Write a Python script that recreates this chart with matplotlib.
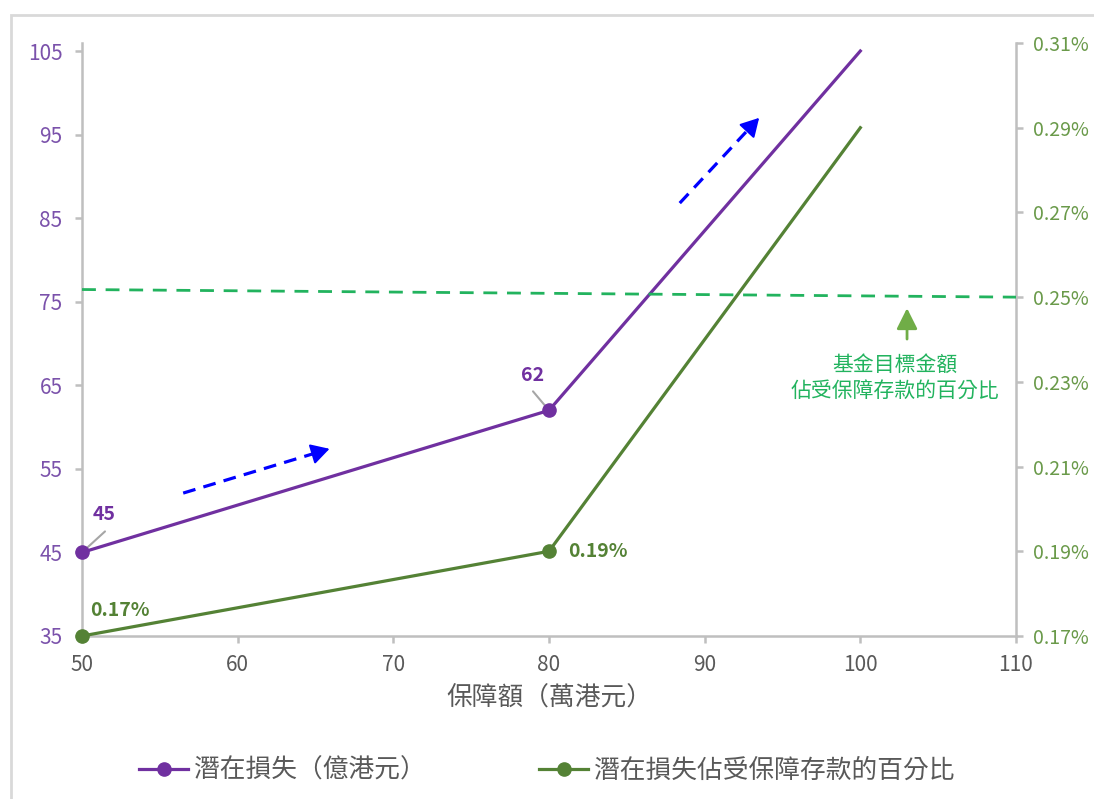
import matplotlib
matplotlib.use('Agg')
import matplotlib.pyplot as plt
from matplotlib.patches import Rectangle
from matplotlib.ticker import FuncFormatter

plt.rcParams['font.family'] = ['Noto Sans CJK TC', 'DejaVu Sans']

# 保障額（萬港元）
coverage = [50, 80, 100]
loss = [45, 62, 105]                 # 潛在損失（億港元）
loss_pct = [0.17, 0.19, 0.29]        # 潛在損失佔受保障存款的百分比 (%)
target_pct = [0.2518, 0.25]          # 基金目標金額 line, drawn from x=50 to x=110

loss_labels = ['45', '62']
pct_labels = ['0.17%', '0.19%']

purple = '#7030a0'
green = '#548235'
target_green = '#22b35e'
grey = '#bfbfbf'

fig = plt.figure(figsize=(10.94, 7.99), dpi=100)
ax = fig.add_axes([82 / 1094, 1 - 636 / 799, (1016 - 82) / 1094, (636 - 43) / 799])
ax2 = ax.twinx()

# outer frame
fig.add_artist(Rectangle((11 / 1094, -0.1), 2, 1 - 15 / 799 + 0.1, transform=fig.transFigure,
                         fill=False, ec='#d9d9d9', lw=2))

l1, = ax.plot(coverage, loss, color=purple, lw=2.3, marker='o', ms=9.5, markevery=[0, 1],
              label='潛在損失（億港元）', zorder=4, clip_on=False)
l2, = ax2.plot(coverage, loss_pct, color=green, lw=2.3, marker='o', ms=9.5, markevery=[0, 1],
               label='潛在損失佔受保障存款的百分比', zorder=4, clip_on=False)

ax.set_xlim(50, 110)
ax.set_ylim(35, 35 + 70 * 593 / 585)
ax.set_xticks(range(50, 111, 10))
ax.set_yticks(range(35, 106, 10))
ax2.set_ylim(0.17, 0.31)
ax2.set_yticks([0.17, 0.19, 0.21, 0.23, 0.25, 0.27, 0.29, 0.31])
ax2.yaxis.set_major_formatter(FuncFormatter(lambda v, p: f'{v:.2f}%'))

for a in (ax, ax2):
    for s in a.spines.values():
        s.set_color(grey)
        s.set_linewidth(1.8)
    a.spines['top'].set_visible(False)
ax.spines['right'].set_visible(False)
ax2.spines['left'].set_visible(False)
ax2.spines['bottom'].set_visible(False)

ax.tick_params(axis='y', colors=grey, labelcolor='#7b52ab', labelsize=15, length=5, width=1.8, pad=9)
ax.tick_params(axis='x', colors=grey, labelcolor='#595959', labelsize=15, length=5, width=1.8, pad=8)
ax2.tick_params(axis='y', colors=grey, labelcolor='#6a9a4a', labelsize=14, length=5, width=1.8, pad=7)

ax.set_xlabel('保障額（萬港元）', fontsize=18.5, color='#595959', labelpad=7)

# data labels
ax.annotate(loss_labels[0], xy=(coverage[0], loss[0]), xytext=(22, 38), textcoords='offset pixels',
            ha='center', va='center', fontsize=14, fontweight='bold', color=purple)
ax.annotate(loss_labels[1], xy=(coverage[1], loss[1]), xytext=(-16, 35), textcoords='offset pixels',
            ha='center', va='center', fontsize=14, fontweight='bold', color=purple)
ax.annotate('', xy=(coverage[0], loss[0]), xytext=(23, 21), textcoords='offset pixels',
            arrowprops=dict(arrowstyle='-', color='#a6a6a6', lw=1.5, shrinkA=0, shrinkB=2))
ax.annotate('', xy=(coverage[1], loss[1]), xytext=(-16, 19), textcoords='offset pixels',
            arrowprops=dict(arrowstyle='-', color='#a6a6a6', lw=1.5, shrinkA=0, shrinkB=2))
ax2.annotate(pct_labels[0], xy=(coverage[0], loss_pct[0]), xytext=(38, 26), textcoords='offset pixels',
             ha='center', va='center', fontsize=14, fontweight='bold', color=green)
ax2.annotate(pct_labels[1], xy=(coverage[1], loss_pct[1]), xytext=(49, 0), textcoords='offset pixels',
             ha='center', va='center', fontsize=14, fontweight='bold', color=green)

# blue trend arrows
for (x0, y0), (x1, y1) in [((56.5, 52.1), (65.9, 57.4)), ((88.4, 86.8), (93.5, 97.0))]:
    fx = x0 + (x1 - x0) * 0.9
    fy = y0 + (y1 - y0) * 0.9
    ax.plot([x0, fx], [y0, fy], color='#0000ff', lw=2.3, dashes=(4, 2.6), zorder=5)
    ax.annotate('', xy=(x1, y1), xytext=(fx, fy),
                arrowprops=dict(arrowstyle='-|>,head_length=0.8,head_width=0.45', color='#0000ff',
                                lw=1.5, shrinkA=0, shrinkB=0, mutation_scale=14), zorder=5)

# fund target line and note
ax2.plot([50, 110], target_pct, color=target_green, lw=2, dashes=(5, 3.5), clip_on=False, zorder=3)
ax2.annotate('', xy=(103.0, 0.2474), xytext=(103.0, 0.2401),
             arrowprops=dict(arrowstyle='-|>,head_length=0.7,head_width=0.35', color='#70ad47',
                             lw=2, shrinkA=0, shrinkB=0, mutation_scale=18))
ax2.text(102.2, 0.2310, '基金目標金額\n佔受保障存款的百分比', ha='center', va='center',
         fontsize=15, color=target_green, linespacing=1.25)

fig.legend(handles=[l1, l2], loc='center', bbox_to_anchor=(0.5, 1 - 771 / 799), ncol=2,
           frameon=False, fontsize=18.5, handlelength=1.9, columnspacing=4.4, handletextpad=0.25,
           labelcolor='#595959')

fig.savefig('out.png', dpi=100)
